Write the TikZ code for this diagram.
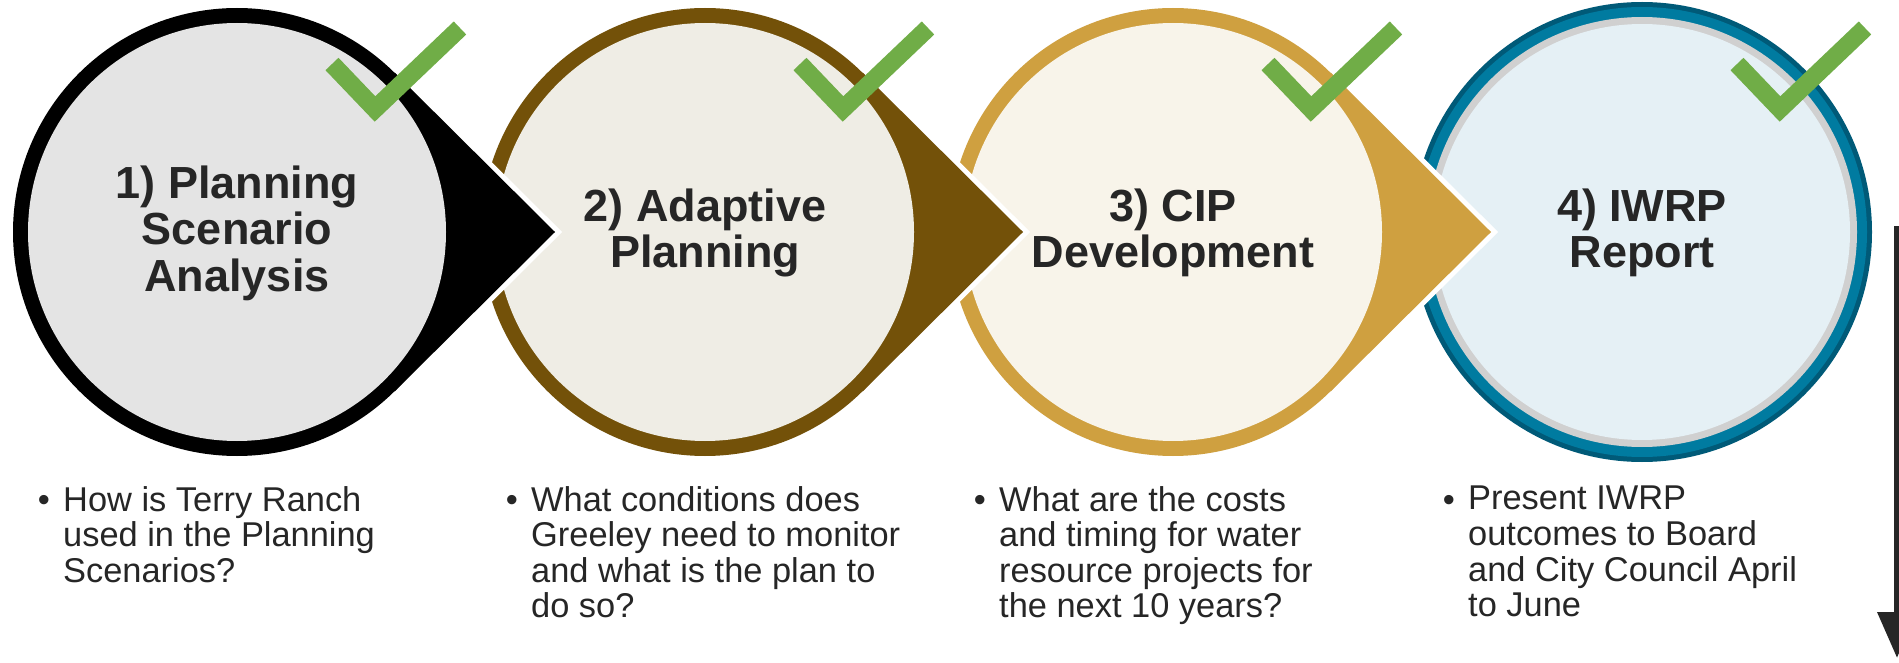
\documentclass[tikz,border=0pt]{standalone}
\usepackage{fontspec}
\setmainfont{Liberation Sans}
\usetikzlibrary{arrows.meta}
\definecolor{ringA}{HTML}{000000}
\definecolor{fillA}{HTML}{E4E4E4}
\definecolor{ringB}{HTML}{735109}
\definecolor{fillB}{HTML}{EFEDE5}
\definecolor{ringC}{HTML}{CFA040}
\definecolor{fillC}{HTML}{F8F4EA}
\definecolor{ringD}{HTML}{007BA0}
\definecolor{ringDdark}{HTML}{005A78}
\definecolor{ringDgray}{HTML}{D0D0D0}
\definecolor{fillD}{HTML}{E5F0F5}
\definecolor{checkgreen}{HTML}{70AD47}
\definecolor{txt}{HTML}{262626}
\tikzset{
  titletext/.style={font=\fontsize{45}{46.5}\selectfont\bfseries, text=txt, align=center, inner sep=0pt},
  bullettext/.style={font=\fontsize{34.4}{35.6}\selectfont, text=txt, align=left, inner sep=0pt, anchor=north west},
  bulletdot/.style={font=\fontsize{34.4}{35.6}\selectfont, text=txt, inner sep=0pt, anchor=base},
  checkmk/.style={draw=checkgreen, line width=18pt, line cap=butt, line join=miter},
  flowarrow/.style={draw=txt, line width=7pt, -{Triangle[length=46pt,width=38pt]}},
  tipoutline/.style={draw=white, line width=10pt, line join=miter}
}
\begin{document}
\begin{tikzpicture}[x=1pt,y=-1pt]
\useasboundingbox (0,0) rectangle (1899,663);
\fill[white] (0,0) rectangle (1899,663);

% circle 4 (no pointer)
\fill[ringDdark] (1642,232) circle[radius=230];
\fill[ringD] (1642,232) circle[radius=225];
\fill[ringDgray] (1642,232) circle[radius=215];
\fill[fillD] (1642,232) circle[radius=208];

% circles 3,2,1 with pointers
\foreach \cx/\rc/\fc in {1173/ringC/fillC, 705/ringB/fillB, 237/ringA/fillA} {
  \draw[tipoutline] (\cx,232) -- (\cx+158,73) -- (\cx+318,232) -- (\cx+158,391) -- cycle;
  \fill[\rc] (\cx,232) circle[radius=224];
  \fill[\rc] (\cx,232) -- (\cx+158,73) -- (\cx+318,232) -- (\cx+158,391) -- cycle;
  \fill[\fc] (\cx,232) circle[radius=209];
}

% titles
\node[titletext] (t1) at (237,233) {1) Planning\\Scenario\\Analysis};
\node[titletext] (t2) at (705,233) {2) Adaptive\\Planning};
\node[titletext] (t3) at (1173,233) {3) CIP\\Development};
\node[titletext] (t4) at (1642,233) {4) IWRP\\Report};

% checkmarks
\foreach \cx in {237,705,1173,1642} {
  \draw[checkmk] (\cx+95,64) -- (\cx+138,109) -- (\cx+223,28);
}

% bullets
\node[bulletdot] (b1) at (44,511) {•};
\node[bullettext] (q1) at (63,486) {How is Terry Ranch\\used in the Planning\\Scenarios?};
\node[bulletdot] (b2) at (512,511) {•};
\node[bullettext] (q2) at (531,486) {What conditions does\\Greeley need to monitor\\and what is the plan to\\do so?};
\node[bulletdot] (b3) at (980,511) {•};
\node[bullettext] (q3) at (999,486) {What are the costs\\and timing for water\\resource projects for\\the next 10 years?};
\node[bulletdot] (b4) at (1449,511) {•};
\node[bullettext] (q4) at (1468,486) {Present IWRP\\outcomes to Board\\and City Council April\\to June};

% arrow
\coordinate (arrtop) at (1897,226);
\coordinate (arrtip) at (1897,658);
\draw[flowarrow] (arrtop) -- (arrtip);
\end{tikzpicture}
\end{document}
